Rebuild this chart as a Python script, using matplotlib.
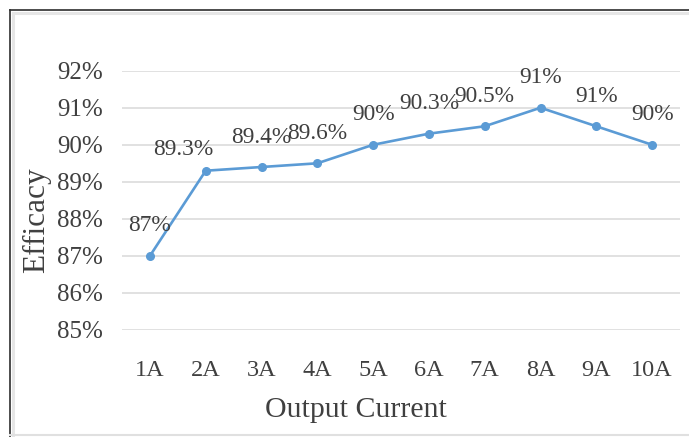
import matplotlib
matplotlib.use("Agg")
import matplotlib.pyplot as plt
from matplotlib.lines import Line2D
from matplotlib.ticker import FuncFormatter

# ---- data ----
categories = ["1A", "2A", "3A", "4A", "5A", "6A", "7A", "8A", "9A", "10A"]
efficacy = [87, 89.3, 89.4, 89.5, 90, 90.3, 90.5, 91, 90.5, 90]
value_labels = ["87%", "89.3%", "89.4%", "89.6%", "90%", "90.3%", "90.5%", "91%", "91%", "90%"]
y_ticks = [85, 86, 87, 88, 89, 90, 91, 92]

plt.rcParams['font.family'] = ['Liberation Serif', 'DejaVu Serif']
TXT = "#404040"
LINE = "#5B9BD5"

W, H = 689, 437
fig = plt.figure(figsize=(W / 100, H / 100), dpi=100)
ax = fig.add_axes([122 / W, 1 - 330 / H, (680 - 122) / W, (330 - 70.7) / H])

x = list(range(len(categories)))
ax.plot(x, efficacy, color=LINE, lw=1.9, marker='o', markersize=5.5, zorder=3)

ax.set_xlim(-0.5, len(categories) - 0.5)
ax.set_ylim(85, 92)
ax.set_yticks(y_ticks)
ax.yaxis.set_major_formatter(FuncFormatter(lambda v, p: f"{int(round(v))}%"))
ax.set_xticks(x)
ax.set_xticklabels(categories)
ax.grid(axis='y', color="#D9D9D9", lw=1.1)
ax.set_axisbelow(True)
for s in ax.spines.values():
    s.set_visible(False)
ax.tick_params(axis='both', length=0, colors=TXT, labelsize=18)
ax.tick_params(axis='y', pad=14)
ax.tick_params(axis='x', pad=21.5, labelsize=17.5)

# data labels
label_shift = {1: (-16.5, 15)}
for i, (v, lab) in enumerate(zip(efficacy, value_labels)):
    dx, dy = label_shift.get(i, (0, 21.6))
    ax.annotate(lab, (i, v), xytext=(dx, dy), textcoords='offset points',
                ha='center', va='center', fontsize=16.8, color=TXT)

ax.set_xlabel("Output Current", fontsize=21.5, color=TXT)
ax.xaxis.label.set_va('baseline')
ax.xaxis.set_label_coords((356 - 122) / 558, (330 - 417) / 259.3)
ax.set_ylabel("Efficacy", fontsize=22.5, color=TXT)
ax.yaxis.label.set_va('center')
ax.yaxis.set_label_coords((37 - 122) / 558, (330 - 220) / 259.3)

# chart frame
def fl(x0, y0, x1, y1, c, lw):
    fig.add_artist(Line2D([x0 / W, x1 / W], [1 - y0 / H, 1 - y1 / H],
                          transform=fig.transFigure, color=c, lw=lw))

fl(12.5, 12.5, 12.5, 437, "#E6E6E6", 2.2)
fl(12.5, 12.5, 689, 12.5, "#E6E6E6", 2.2)
fl(10, 10, 10, 437, "#2E2E2E", 1.2)
fl(10, 10, 689, 10, "#2E2E2E", 1.2)
fl(10, 435, 689, 435, "#E0E0E0", 1.5)

fig.savefig("out.png", dpi=100)
